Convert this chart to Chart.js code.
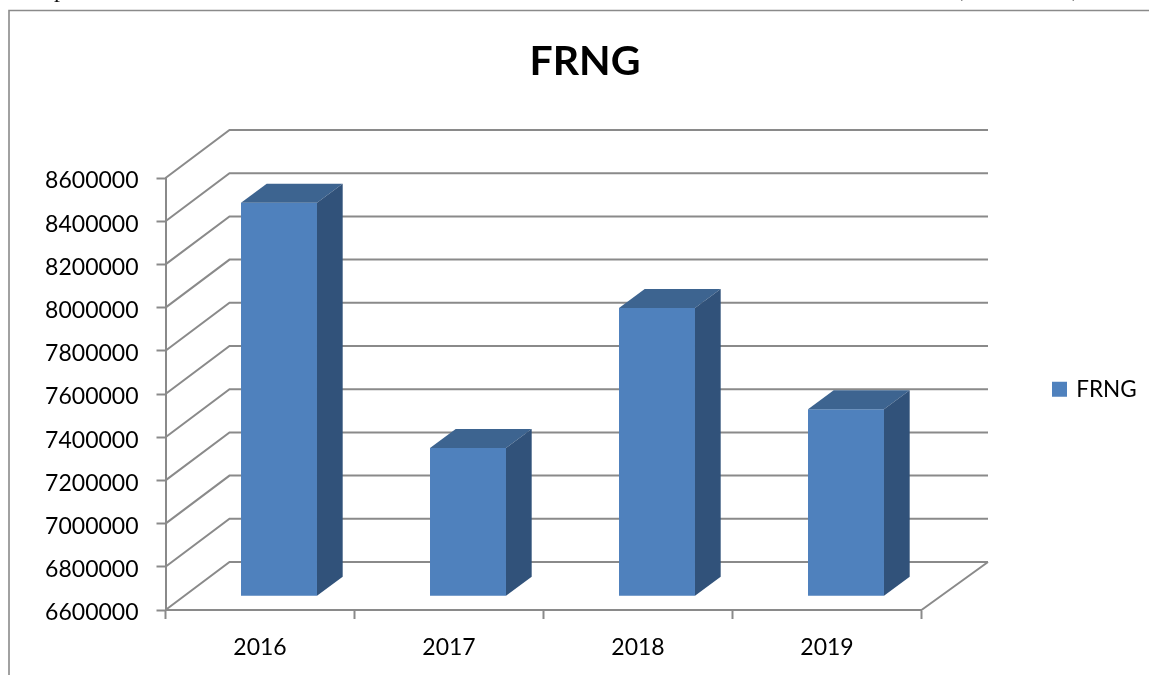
<!DOCTYPE html>
<html>
<head>
<meta charset="utf-8">
<title>FRNG</title>
<script src="https://cdn.jsdelivr.net/npm/chart.js@4"></script>
<style>
  html, body { margin: 0; padding: 0; background: #fff; }
  canvas { display: block; }
</style>
</head>
<body>
<canvas id="frngchart" width="1149" height="675"></canvas>
<script>
const years = ['2016', '2017', '2018', '2019'];
const frng = [8422000, 7287000, 7935000, 7466000];
const tickMin = 6600000;
const tickMax = 8600000;
const tickStep = 200000;

const GREY = '#8a8a8a';
const FONT = 'Lato, Carlito, sans-serif';

// how far the back wall sits from the front axes
const WALL_X = 64;
const WALL_Y = -48;
// bars stand part way into the floor, and have this much depth
const BAR_X = 19;
const BAR_Y = -13.7;
const DEPTH_X = 25.7;
const DEPTH_Y = -19;

const box3d = {
  id: 'box3d',
  beforeLayout(chart) {
    const lg = chart.legend;
    const fit = lg.fit;
    lg.fit = function() {
      fit.call(this);
      this.width = 227.5;
    };
  },
  afterLayout(chart) {
    const lg = chart.legend;
    lg.left = 1044;
    lg.top = 368;
    lg.bottom = 422;
  },
  beforeDraw(chart) {
    const c = chart.ctx;
    c.save();
    c.fillStyle = '#fff';
    c.fillRect(0, 0, chart.width, chart.height);
    // outer frame of the pasted chart, cut off on the right and bottom
    c.strokeStyle = GREY;
    c.lineWidth = 1.6;
    c.beginPath();
    c.moveTo(9, chart.height);
    c.lineTo(9, 10.5);
    c.lineTo(chart.width, 10.5);
    c.stroke();
    // bits of the line of text above the chart
    c.fillStyle = '#111';
    c.font = '24px "Liberation Serif", serif';
    c.fillText('p', 54, -3);
    c.fillText('(', 955, -4);
    c.fillText(')', 1072, -4);
    c.restore();
  },
  beforeDatasetsDraw(chart) {
    const c = chart.ctx;
    const y = chart.scales.y;
    const x = chart.scales.x;
    c.save();
    c.strokeStyle = GREY;
    c.lineWidth = 2;
    c.beginPath();
    y.ticks.forEach(function(t) {
      const py = y.getPixelForValue(t.value);
      c.moveTo(x.left, py);
      c.lineTo(x.left + WALL_X, py + WALL_Y);
      c.lineTo(x.right + WALL_X + 2.5, py + WALL_Y);
    });
    const py0 = y.getPixelForValue(tickMin);
    c.moveTo(x.right, py0);
    c.lineTo(x.right + WALL_X + 2.5, py0 + WALL_Y);
    c.stroke();
    c.restore();
    c.save();
    c.translate(BAR_X, BAR_Y);
  },
  afterDatasetsDraw(chart) {
    const c = chart.ctx;
    c.restore();
    c.save();
    c.translate(BAR_X, BAR_Y);
    chart.getDatasetMeta(0).data.forEach(function(bar) {
      const l = bar.x - bar.width / 2;
      const r = bar.x + bar.width / 2;
      c.fillStyle = '#3d6490';
      c.beginPath();
      c.moveTo(l, bar.y);
      c.lineTo(l + DEPTH_X, bar.y + DEPTH_Y);
      c.lineTo(r + DEPTH_X, bar.y + DEPTH_Y);
      c.lineTo(r, bar.y);
      c.closePath();
      c.fill();
      c.fillStyle = '#31527a';
      c.beginPath();
      c.moveTo(r, bar.y);
      c.lineTo(r + DEPTH_X, bar.y + DEPTH_Y);
      c.lineTo(r + DEPTH_X, bar.base + DEPTH_Y);
      c.lineTo(r, bar.base);
      c.closePath();
      c.fill();
    });
    c.restore();
  }
};

const CHART = document.getElementById('frngchart');

new Chart(CHART, {
  type: 'bar',
  plugins: [box3d],
  data: {
    labels: years,
    datasets: [{
      label: 'FRNG',
      data: frng,
      base: tickMin,
      backgroundColor: '#4f81bd',
      borderWidth: 0,
      categoryPercentage: 1,
      barPercentage: 0.402,
      clip: false
    }]
  },
  options: {
    responsive: false,
    animation: false,
    layout: { padding: { left: 21, right: 0, top: 0, bottom: 0 } },
    plugins: {
      tooltip: { enabled: false },
      title: {
        display: true,
        text: 'FRNG',
        color: '#000',
        font: { family: FONT, size: 41, weight: 'bold', lineHeight: 1.2 },
        padding: { top: 37, bottom: 91.8 }
      },
      legend: {
        position: 'right',
        align: 'start',
        fullSize: false,
        labels: {
          usePointStyle: true,
          pointStyle: 'rect',
          boxWidth: 11,
          boxHeight: 15,
          color: '#000',
          font: { family: FONT, size: 22.5 }
        }
      }
    },
    scales: {
      x: {
        afterFit(scale) { scale.height = 65; },
        border: { display: true, color: GREY, width: 2 },
        grid: { drawOnChartArea: false, color: GREY, tickColor: GREY, tickWidth: 2, tickLength: 9 },
        ticks: { color: '#000', padding: 15, font: { family: FONT, size: 23 }, maxRotation: 0 }
      },
      y: {
        min: tickMin,
        max: tickMax,
        afterFit(scale) { scale.width = 144.5; },
        border: { display: true, color: GREY, width: 2 },
        grid: { drawOnChartArea: false, color: GREY, tickColor: GREY, tickWidth: 2, tickLength: 9 },
        ticks: {
          stepSize: tickStep,
          color: '#000',
          padding: 18,
          labelOffset: 3,
          font: { family: FONT, size: 23 },
          callback: function(v) { return String(v); }
        }
      }
    }
  }
});
</script>
</body>
</html>
